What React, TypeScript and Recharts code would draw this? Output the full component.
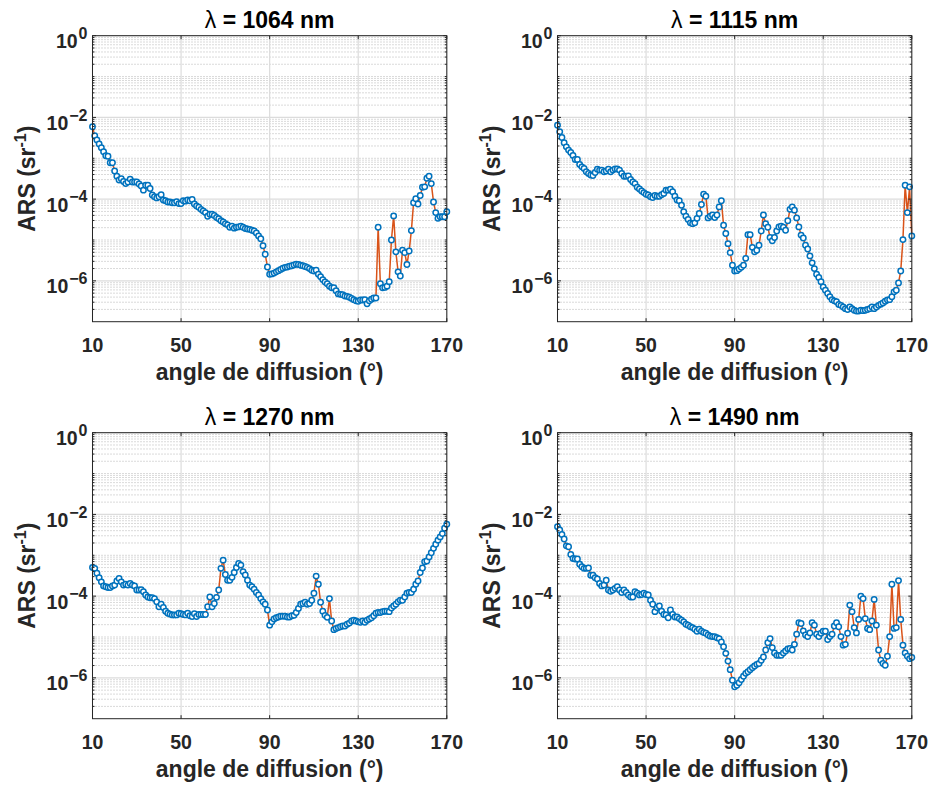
import React from 'react';
import { LineChart, Line, XAxis, YAxis, CartesianGrid } from 'recharts';

// scattering angle, one sample per degree
const angles: number[] = [];
for (let a = 10; a <= 170; a++) angles.push(a);

// log10 of ARS (sr^-1), 10..170 deg
const ars1064 = [
  -2.23, -2.45, -2.55, -2.65, -2.74, -2.84, -2.94, -2.95, -3.11, -3.11,
  -3.31, -3.44, -3.53, -3.50, -3.57, -3.62, -3.58, -3.51, -3.58, -3.58,
  -3.58, -3.63, -3.68, -3.78, -3.66, -3.66, -3.74, -3.90, -3.94, -3.97,
  -3.94, -3.89, -4.02, -4.04, -4.07, -4.07, -4.09, -4.09, -4.06, -4.11,
  -4.11, -4.04, -4.05, -4.02, -4.04, -4.01, -4.12, -4.17, -4.20, -4.25,
  -4.29, -4.33, -4.42, -4.37, -4.37, -4.40, -4.45, -4.48, -4.53, -4.56,
  -4.60, -4.63, -4.69, -4.66, -4.71, -4.69, -4.68, -4.66, -4.69, -4.72,
  -4.73, -4.74, -4.76, -4.78, -4.83, -4.90, -4.97, -5.14, -5.35, -5.66,
  -5.84, -5.83, -5.81, -5.78, -5.75, -5.72, -5.69, -5.67, -5.66, -5.64,
  -5.63, -5.61, -5.59, -5.60, -5.62, -5.63, -5.65, -5.67, -5.70, -5.74,
  -5.76, -5.74, -5.84, -5.90, -5.97, -6.03, -6.07, -6.13, -6.17, -6.17,
  -6.24, -6.32, -6.33, -6.34, -6.37, -6.38, -6.40, -6.43, -6.46, -6.49,
  -6.50, -6.47, -6.47, -6.46, -6.56, -6.49, -6.45, -6.42, -6.42, -4.69,
  -6.07, -6.17, -6.16, -6.13, -6.02, -5.00, -4.41, -5.29, -5.78, -5.88,
  -5.25, -5.31, -5.60, -5.27, -4.77, -4.09, -3.99, -4.12, -3.91, -3.71,
  -3.70, -3.49, -3.44, -3.62, -4.07, -4.33, -4.47, -4.43, -4.43, -4.43,
  -4.31,
];

const ars1115 = [
  -2.19, -2.35, -2.49, -2.62, -2.72, -2.80, -2.86, -2.93, -3.03, -3.03,
  -3.15, -3.21, -3.25, -3.33, -3.37, -3.41, -3.42, -3.35, -3.27, -3.29,
  -3.29, -3.33, -3.31, -3.27, -3.33, -3.29, -3.26, -3.26, -3.29, -3.37,
  -3.44, -3.44, -3.43, -3.52, -3.58, -3.62, -3.71, -3.75, -3.80, -3.84,
  -3.88, -3.90, -3.94, -3.96, -3.91, -3.93, -3.93, -3.89, -3.86, -3.78,
  -3.78, -3.76, -3.82, -3.93, -4.02, -4.04, -4.15, -4.31, -4.42, -4.50,
  -4.58, -4.60, -4.58, -4.47, -4.35, -4.13, -3.88, -3.93, -4.46, -4.42,
  -4.39, -4.45, -4.39, -4.19, -4.04, -4.64, -4.84, -5.09, -5.31, -5.62,
  -5.76, -5.75, -5.71, -5.67, -5.62, -5.45, -4.87, -4.87, -5.18, -5.29,
  -5.25, -5.13, -4.78, -4.39, -4.60, -4.69, -4.94, -5.02, -4.94, -4.78,
  -4.68, -4.66, -4.69, -4.76, -4.53, -4.25, -4.19, -4.27, -4.46, -4.68,
  -4.88, -4.95, -5.13, -5.22, -5.39, -5.56, -5.70, -5.84, -5.92, -6.02,
  -6.15, -6.23, -6.31, -6.39, -6.46, -6.49, -6.51, -6.58, -6.60, -6.64,
  -6.68, -6.70, -6.64, -6.68, -6.72, -6.74, -6.74, -6.72, -6.73, -6.72,
  -6.70, -6.68, -6.64, -6.68, -6.64, -6.60, -6.57, -6.54, -6.50, -6.47,
  -6.46, -6.39, -6.27, -6.23, -6.05, -5.76, -4.99, -3.66, -4.33, -3.70,
  -4.90,
];

const ars1270 = [
  -3.30, -3.32, -3.44, -3.55, -3.65, -3.75, -3.77, -3.79, -3.79, -3.75,
  -3.73, -3.63, -3.57, -3.65, -3.73, -3.71, -3.73, -3.69, -3.73, -3.75,
  -3.85, -3.85, -3.84, -3.89, -3.97, -4.02, -4.04, -4.04, -4.06, -4.14,
  -4.26, -4.20, -4.28, -4.37, -4.42, -4.44, -4.46, -4.46, -4.46, -4.42,
  -4.43, -4.45, -4.46, -4.42, -4.48, -4.50, -4.43, -4.50, -4.45, -4.45,
  -4.45, -4.45, -4.26, -4.02, -4.26, -4.18, -4.03, -3.85, -3.32, -3.12,
  -3.47, -3.61, -3.61, -3.54, -3.42, -3.30, -3.20, -3.24, -3.40, -3.48,
  -3.61, -3.73, -3.77, -3.83, -3.91, -3.97, -4.06, -4.14, -4.20, -4.34,
  -4.71, -4.63, -4.56, -4.53, -4.51, -4.49, -4.49, -4.49, -4.51, -4.51,
  -4.48, -4.47, -4.40, -4.30, -4.20, -4.18, -4.15, -4.20, -4.18, -4.10,
  -3.93, -3.51, -3.71, -4.15, -4.37, -4.47, -4.52, -4.06, -4.61, -4.82,
  -4.79, -4.77, -4.75, -4.73, -4.73, -4.69, -4.66, -4.61, -4.59, -4.61,
  -4.63, -4.64, -4.61, -4.64, -4.59, -4.56, -4.53, -4.48, -4.42, -4.40,
  -4.40, -4.38, -4.37, -4.37, -4.38, -4.29, -4.24, -4.20, -4.14, -4.10,
  -4.10, -4.02, -3.93, -3.91, -3.91, -3.83, -3.71, -3.63, -3.42, -3.31,
  -3.16, -3.14, -3.04, -2.94, -2.83, -2.73, -2.63, -2.55, -2.47, -2.34,
  -2.24,
];

const ars1490 = [
  -2.30, -2.38, -2.49, -2.60, -2.77, -2.79, -2.98, -3.08, -3.09, -3.09,
  -3.22, -3.28, -3.32, -3.32, -3.31, -3.49, -3.49, -3.55, -3.58, -3.69,
  -3.75, -3.73, -3.61, -3.85, -3.88, -3.85, -3.81, -3.77, -3.85, -3.91,
  -3.85, -3.91, -3.97, -4.02, -4.02, -3.89, -3.93, -3.97, -3.96, -3.93,
  -3.96, -3.97, -4.10, -4.20, -4.38, -4.28, -4.24, -4.37, -4.45, -4.46,
  -4.53, -4.34, -4.45, -4.51, -4.51, -4.55, -4.59, -4.63, -4.69, -4.71,
  -4.75, -4.77, -4.81, -4.86, -4.81, -4.86, -4.89, -4.91, -4.95, -4.98,
  -4.99, -4.99, -5.02, -5.04, -5.12, -5.24, -5.40, -5.59, -5.80, -6.06,
  -6.22, -6.18, -6.12, -6.04, -5.96, -5.89, -5.85, -5.80, -5.75, -5.71,
  -5.67, -5.65, -5.57, -5.49, -5.32, -5.14, -5.04, -5.26, -5.39, -5.45,
  -5.45, -5.45, -5.39, -5.34, -5.29, -5.28, -5.32, -5.18, -4.93, -4.65,
  -4.67, -4.85, -4.95, -4.99, -4.90, -4.65, -4.71, -4.93, -4.99, -4.91,
  -4.86, -4.86, -5.06, -4.99, -4.93, -4.73, -4.65, -4.75, -4.99, -5.20,
  -5.18, -4.91, -4.22, -4.38, -4.77, -4.90, -4.57, -4.00, -4.06, -4.55,
  -4.79, -4.82, -4.61, -4.08, -4.71, -5.32, -5.57, -5.65, -5.69, -5.47,
  -4.99, -3.71, -4.79, -4.77, -3.62, -4.57, -5.20, -5.39, -5.47, -5.53,
  -5.50,
];

const titles = ['1064', '1115', '1270', '1490'];
const xTicks = [10, 50, 90, 130, 170];
const yMajor = [1e-6, 1e-4, 1e-2, 1];
const yMinor: number[] = [];
for (let e = -7; e < 0; e++) {
  for (let m = 1; m <= 9; m++) {
    if (m === 1 && (e === -7 || e % 2 === 0)) continue;
    yMinor.push(m * Math.pow(10, e));
  }
}
const yTicks = [...yMinor, ...yMajor].sort((a, b) => a - b);

const FONT = '"Liberation Sans", Arial, Helvetica, sans-serif';
const INK = '#262626';
const W = 465;
const H = 388;
const PL = 92.5;
const PR = 446.8;
const PT = 35.7;
const PB = 321.7;
const Y_W = 60;
const X_H = 40;

function XTick({ x, payload }: any) {
  return (
    <g>
      <line x1={x} x2={x} y1={PB} y2={PB - 3.5} stroke={INK} strokeWidth={1} />
      <line x1={x} x2={x} y1={PT} y2={PT + 3.5} stroke={INK} strokeWidth={1} />
      <text x={x} y={PB + 30.5} textAnchor="middle" fontSize={19.5} fontWeight="bold" fill={INK} fontFamily={FONT}>
        {payload.value}
      </text>
    </g>
  );
}

function YTick({ y, payload }: any) {
  const v = payload.value;
  const e = Math.round(Math.log10(v));
  const major = yMajor.some((m) => Math.abs(m - v) / m < 1e-6);
  const len = major ? 3.5 : 2;
  const exp = e < 0 ? `\u2212${-e}` : `${e}`;
  return (
    <g>
      <line x1={PL} x2={PL + len} y1={y} y2={y} stroke={INK} strokeWidth={1} />
      <line x1={PR} x2={PR - len} y1={y} y2={y} stroke={INK} strokeWidth={1} />
      {major && (
        <text x={PL - 5} y={y + 12.6} textAnchor="end" fontSize={19.5} fontWeight="bold" fill={INK} fontFamily={FONT}>
          <tspan>10</tspan>
          <tspan dx={1} dy={-9.3} fontSize={16}>{exp}</tspan>
        </text>
      )}
    </g>
  );
}

function Panel({ left, top, title, values }: { left: number; top: number; title: string; values: number[] }) {
  const data = angles.map((a, i) => ({ angle: a, ars: Math.pow(10, values[i]) }));
  const cx = (PL + PR) / 2;
  const cy = (PT + PB) / 2;
  return (
    <div style={{ position: 'absolute', left, top, width: W, height: H }}>
      <LineChart
        width={W}
        height={H}
        data={data}
        margin={{ top: PT, left: PL - Y_W, right: W - PR, bottom: H - PB - X_H }}
      >
        <CartesianGrid horizontalValues={yMinor} vertical={false} stroke="#b4b4b4" strokeWidth={1} strokeDasharray="1 2" />
        <CartesianGrid horizontalValues={yMajor} verticalValues={xTicks} stroke="#dcdcdc" strokeWidth={1.2} />
        <XAxis
          dataKey="angle"
          type="number"
          domain={[10, 170]}
          ticks={xTicks}
          interval={0}
          height={X_H}
          axisLine={false}
          tickLine={false}
          tick={<XTick />}
        />
        <YAxis
          dataKey="ars"
          type="number"
          scale="log"
          domain={[1e-7, 1]}
          ticks={yTicks}
          interval={0}
          width={Y_W}
          axisLine={false}
          tickLine={false}
          tick={<YTick />}
        />
        <Line
          dataKey="ars"
          type="linear"
          stroke="#D95319"
          strokeWidth={1.5}
          dot={{ r: 2.7, stroke: '#0072BD', strokeWidth: 1.5, fill: '#ffffff' }}
          activeDot={false}
          isAnimationActive={false}
        />
      </LineChart>
      <svg width={W} height={H} style={{ position: 'absolute', left: 0, top: 0, pointerEvents: 'none' }}>
        <rect x={PL} y={PT} width={PR - PL} height={PB - PT} fill="none" stroke={INK} strokeWidth={1} />
        <text x={cx} y={28.3} textAnchor="middle" fontSize={23} fontWeight="bold" fill="#000" fontFamily={FONT}>
          <tspan fontWeight="normal">λ</tspan>
          <tspan> = {title} nm</tspan>
        </text>
        <text x={cx} y={380} textAnchor="middle" fontSize={23} fontWeight="bold" fill={INK} fontFamily={FONT}>
          angle de diffusion (°)
        </text>
        <text
          x={35}
          y={cy}
          textAnchor="middle"
          fontSize={23}
          fontWeight="bold"
          fill={INK}
          fontFamily={FONT}
          transform={`rotate(-90, 35, ${cy})`}
        >
          <tspan>ARS (sr</tspan>
          <tspan dy={-9} fontSize={16}>-1</tspan>
          <tspan dy={9}>)</tspan>
        </text>
      </svg>
    </div>
  );
}

export default function App() {
  return (
    <div style={{ position: 'absolute', left: 0, top: 0, width: 931, height: 785, background: '#fff', overflow: 'hidden' }}>
      <Panel left={0} top={0} title={titles[0]} values={ars1064} />
      <Panel left={465.2} top={0} title={titles[1]} values={ars1115} />
      <Panel left={0} top={397} title={titles[2]} values={ars1270} />
      <Panel left={465.2} top={397} title={titles[3]} values={ars1490} />
    </div>
  );
}
